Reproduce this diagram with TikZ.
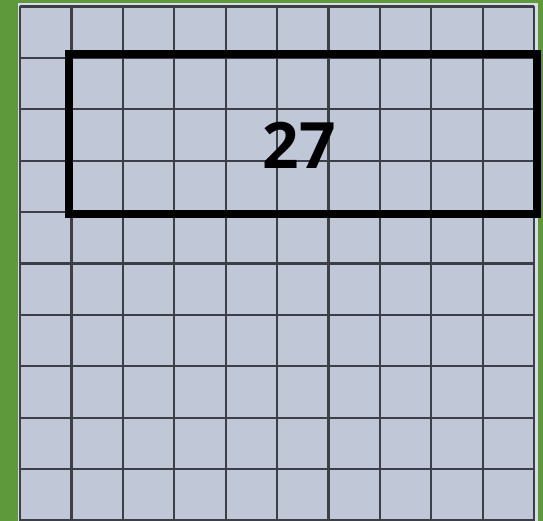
\documentclass[tikz,border=0pt]{standalone}
\usepackage{fontspec}
\newfontfamily\numfont{Open Sans}
\definecolor{bggreen}{HTML}{5E9A3C}
\definecolor{cellfill}{HTML}{C0C7D7}
\definecolor{gridline}{HTML}{3C3F48}
\definecolor{rimc}{HTML}{D8DCE6}
\tikzset{
  gridlines/.style={draw=gridline, line width=2.2pt},
  framebox/.style={draw=black, line width=8pt},
  numlabel/.style={font=\numfont\bfseries\fontsize{64}{70}\selectfont, text=black, inner sep=0pt},
}
\begin{document}
\begin{tikzpicture}[x=1pt,y=-1pt]
\useasboundingbox (0,0) rectangle (543,521);
\fill[bggreen] (0,0) rectangle (543,521);
\fill[rimc] (17.5,3) rectangle (537.5,521);
\fill[cellfill] (20,6.5) rectangle (534,520.5);
\foreach \i in {0,...,10}{
  \draw[gridlines] ({20+51.4*\i},6.5) -- ({20+51.4*\i},520.5);
  \draw[gridlines] (20,{6.5+51.4*\i}) -- (534,{6.5+51.4*\i});
}
\node[framebox, minimum width=468pt, minimum height=160.5pt, anchor=north west, inner sep=0pt, outer sep=0pt] (frame) at (69,54) {};
\node[numlabel] (num) at (299,145) {27};
\end{tikzpicture}
\end{document}
